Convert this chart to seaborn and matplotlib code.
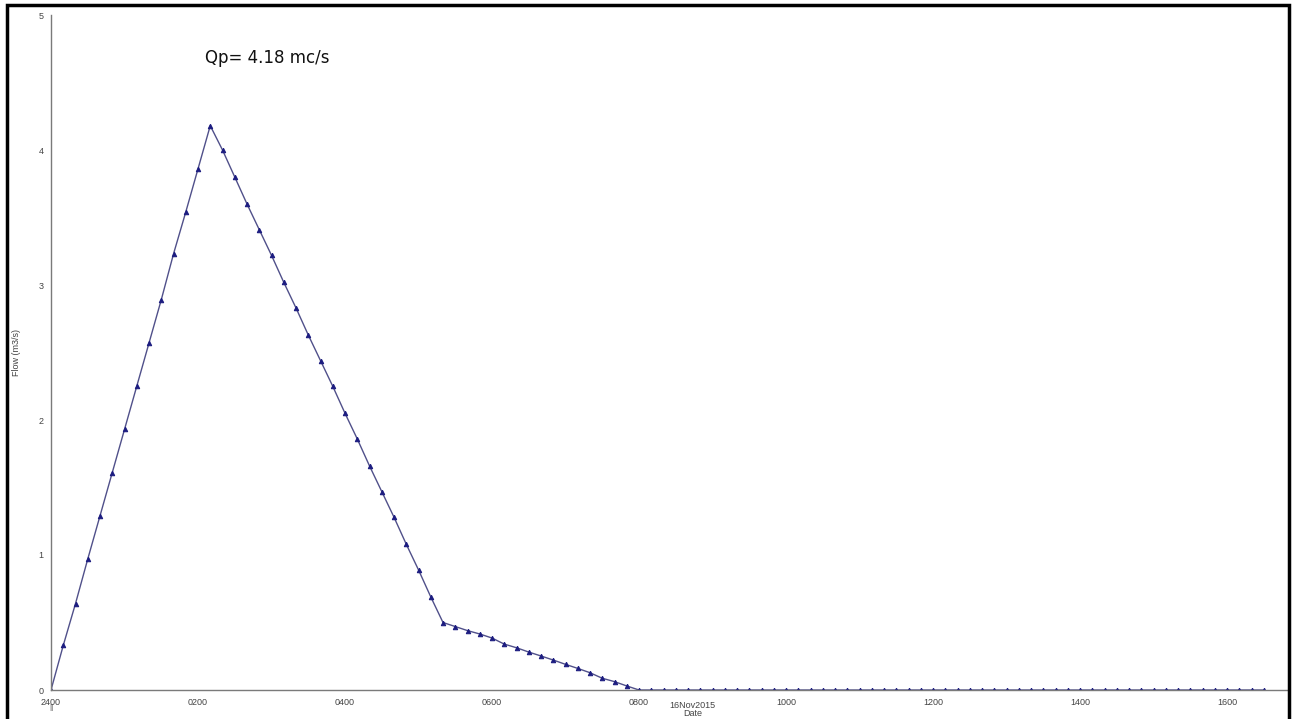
import matplotlib
matplotlib.use("Agg")
import matplotlib.pyplot as plt
import matplotlib.patches as mpatches
from matplotlib.ticker import MultipleLocator
import numpy as np
import pandas as pd
import seaborn as sns

# flow hydrograph, 10 minute steps from 2400 (midnight)
step_minutes = 10
rising = [0.00, 0.33, 0.64, 0.97, 1.29, 1.61, 1.93, 2.25, 2.57, 2.89, 3.23, 3.54, 3.86, 4.18]
falling = [4.00, 3.80, 3.60, 3.41, 3.22, 3.02, 2.83, 2.63, 2.44, 2.25, 2.05, 1.86, 1.66,
           1.47, 1.28, 1.08, 0.89, 0.69, 0.50]
recession = [0.47, 0.44, 0.415, 0.385, 0.34, 0.313, 0.281, 0.252, 0.222, 0.19, 0.16,
             0.128, 0.087, 0.062, 0.03, 0.00]
baseflow = [0.00] * 51

flow = rising + falling + recession + baseflow
hours = [i * step_minutes / 60 for i in range(len(flow))]

xtick_pos = [0, 2, 4, 6, 8, 10, 12, 14, 16]
xtick_labels = ["2400", "0200", "0400", "0600", "0800", "1000", "1200", "1400", "1600"]
ytick_pos = [0, 1, 2, 3, 4, 5]
peak_label = "Qp= 4.18 mc/s"

df = pd.DataFrame({"hour": hours, "flow": flow})

sns.set_style("white")
plt.rcParams["font.family"] = ["Liberation Sans", "DejaVu Sans"]

fig = plt.figure(figsize=(12.96, 7.19), dpi=100)
ax = fig.add_axes([51 / 1296, 1 - 690 / 719, (1287 - 51) / 1296, (690 - 15) / 719])

sns.lineplot(data=df, x="hour", y="flow", ax=ax, color="#50508a", linewidth=1.0,
             marker="^", markersize=3.2, markerfacecolor="#1c1c80",
             markeredgecolor="#1c1c80")

ax.set_xlim(0, (1287 - 51) / 73.5)
ax.set_ylim(0, 5)
ax.set_xticks(xtick_pos)
ax.set_xticklabels(xtick_labels)
ax.xaxis.set_minor_locator(MultipleLocator(1))
ax.set_yticks(ytick_pos)
ax.yaxis.set_minor_locator(MultipleLocator(0.2))

for side in ["top", "right"]:
    ax.spines[side].set_visible(False)
for side in ["left", "bottom"]:
    ax.spines[side].set_color("#7a7a7a")
    ax.spines[side].set_linewidth(1.0)

ax.tick_params(axis="both", which="major", direction="out", length=4, width=0.8,
               color="#7a7a7a", labelsize=6.5, labelcolor="#444444", pad=1.5)
ax.tick_params(axis="both", which="minor", direction="out", length=3, width=0.6,
               color="#7a7a7a")

ax.set_xlabel("16Nov2015\nDate", fontsize=6.5, color="#444444", linespacing=0.85)
ax.xaxis.set_label_coords(0.519, -0.017, transform=ax.transAxes)
ax.xaxis.label.set_va("top")
ax.set_ylabel("Flow (m3/s)", fontsize=6.5, color="#444444")
ax.yaxis.set_label_coords(-0.024, 0.5)

ax.text(0.0, -0.021, "||", transform=ax.transAxes, ha="center", va="top",
        fontsize=6, color="#444444")

ax.text((205 - 51) / 1236, (690 - 58) / 675, peak_label, transform=ax.transAxes,
        ha="left", va="center", fontsize=12, color="#111111", family="DejaVu Sans")

border = mpatches.Rectangle((7 / 1296, -0.02), (1289 - 7) / 1296, 1.02 - 5 / 719,
                            transform=fig.transFigure, fill=False, edgecolor="black",
                            linewidth=2.5, clip_on=False)
fig.add_artist(border)

fig.savefig("out.png", dpi=100)
plt.close(fig)
